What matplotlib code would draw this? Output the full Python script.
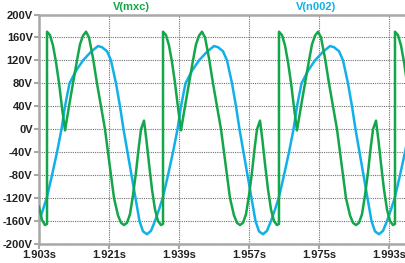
import matplotlib
matplotlib.use("Agg")
import matplotlib.pyplot as plt
import numpy as np

# ---- data (time in ms, voltage in V) ----
mxc_t_ms = [
    1903.00, 1903.77, 1904.54, 1905.06,
    # period 1
    1905.06, 1905.83, 1906.60, 1907.37, 1908.14, 1908.91, 1909.69, 1910.71, 1911.74, 1912.77,
    1913.54, 1914.31, 1915.09, 1915.86, 1916.89, 1917.91, 1918.94, 1919.97, 1920.74, 1921.51,
    1922.29, 1923.31, 1924.09, 1924.86, 1925.63, 1926.40, 1927.17, 1927.94, 1928.59, 1929.23,
    1930.00, 1930.64, 1931.29, 1932.06, 1932.83, 1933.60, 1934.37, 1934.89,
    # period 2
    1934.89, 1935.66, 1936.43, 1937.20, 1937.97, 1938.74, 1939.51, 1940.54, 1941.57, 1942.60,
    1943.37, 1944.14, 1944.91, 1945.69, 1946.71, 1947.74, 1948.77, 1949.80, 1950.57, 1951.34,
    1952.11, 1953.14, 1953.91, 1954.69, 1955.46, 1956.23, 1957.00, 1957.77, 1958.41, 1959.06,
    1959.83, 1960.47, 1961.11, 1961.89, 1962.66, 1963.43, 1964.20, 1964.71,
    # period 3
    1964.71, 1965.49, 1966.26, 1967.03, 1967.80, 1968.57, 1969.34, 1970.37, 1971.40, 1972.43,
    1973.20, 1973.97, 1974.74, 1975.51, 1976.54, 1977.57, 1978.60, 1979.63, 1980.40, 1981.17,
    1981.94, 1982.97, 1983.74, 1984.51, 1985.29, 1986.06, 1986.83, 1987.60, 1988.24, 1988.89,
    1989.66, 1990.30, 1990.94, 1991.71, 1992.49, 1993.26, 1994.03, 1994.54,
    # period 4 (partial)
    1994.54, 1995.31, 1996.09, 1996.86, 1997.63,
]
mxc_v = [
    -135, -158, -167, -165,
    170, 164, 146, 117, 81, 38, -2, 40, 80, 120,
    148, 163, 170, 160, 124, 80, 40, 0, -40, -80,
    -120, -150, -163, -167, -163, -148, -115, -75, -35, 0,
    15, -20, -60, -105, -140, -160, -167, -165,
    170, 164, 146, 117, 81, 38, -2, 40, 80, 120,
    148, 163, 170, 160, 124, 80, 40, 0, -40, -80,
    -120, -150, -163, -167, -163, -148, -115, -75, -35, 0,
    15, -20, -60, -105, -140, -160, -167, -165,
    170, 164, 146, 117, 81, 38, -2, 40, 80, 120,
    148, 163, 170, 160, 124, 80, 40, 0, -40, -80,
    -120, -150, -163, -167, -163, -148, -115, -75, -35, 0,
    15, -20, -60, -105, -140, -160, -167, -165,
    170, 164, 146, 117, 81,
]

n002_t_ms = [
    1903.000, 1904.029, 1905.057, 1906.343, 1907.629, 1908.786, 1909.686, 1910.843, 1912.514,
    1914.314, 1916.372, 1918.172, 1919.200, 1920.486, 1921.514, 1922.800, 1923.829, 1924.729,
    1925.757, 1926.786, 1927.814, 1928.843, 1929.743,
    1930.771, 1931.800, 1932.828, 1933.857, 1934.885, 1936.171, 1937.457, 1938.614, 1939.514,
    1940.671, 1942.342, 1944.142, 1946.200, 1948.000, 1949.028, 1950.314, 1951.342, 1952.628,
    1953.657, 1954.557, 1955.585, 1956.614, 1957.642, 1958.671, 1959.571,
    1960.600, 1961.629, 1962.657, 1963.686, 1964.714, 1966.000, 1967.286, 1968.443, 1969.343,
    1970.500, 1972.171, 1973.971, 1976.029, 1977.829, 1978.857, 1980.143, 1981.171, 1982.457,
    1983.486, 1984.386, 1985.414, 1986.443, 1987.471, 1988.500, 1989.400,
    1990.429, 1991.458, 1992.486, 1993.515, 1994.543, 1995.829, 1997.115, 1998.272,
]
n002_v = [
    -160, -140, -118, -80, -40, 0, 40, 80, 102,
    120, 135, 145, 143, 136, 120, 80, 40, 0,
    -40, -80, -120, -160, -178,
    -183, -177, -160, -140, -118, -80, -40, 0, 40,
    80, 102, 120, 135, 145, 143, 136, 120, 80,
    40, 0, -40, -80, -120, -160, -178,
    -183, -177, -160, -140, -118, -80, -40, 0, 40,
    80, 102, 120, 135, 145, 143, 136, 120, 80,
    40, 0, -40, -80, -120, -160, -178,
    -183, -177, -160, -140, -118, -80, -40, 0,
]

x_ticks = [1.903, 1.921, 1.939, 1.957, 1.975, 1.993]
y_ticks = [-200, -160, -120, -80, -40, 0, 40, 80, 120, 160, 200]

GREEN = "#14a64a"
BLUE = "#12b0e8"
FONT = "Liberation Sans"

fig = plt.figure(figsize=(4.06, 2.63), dpi=100)
fig.patch.set_facecolor("white")
ax = fig.add_axes([39 / 406, 19 / 263, 367 / 406, 229.5 / 263])

ax.plot(np.array(mxc_t_ms) / 1000.0, mxc_v, color=GREEN, lw=1.8, solid_joinstyle="round", zorder=3)
ax.plot(np.array(n002_t_ms) / 1000.0, n002_v, color=BLUE, lw=1.8, solid_joinstyle="round", zorder=2)

ax.set_xlim(1.903, 1.903 + 367 * 0.018 / 70)
ax.set_ylim(-200, 200)
ax.set_xticks(x_ticks)
ax.set_yticks(y_ticks)
ax.set_xticklabels([f"{t:.3f}s" for t in x_ticks], fontsize=8, fontweight="bold",
                   family=FONT, color="#222222")
ax.set_yticklabels([f"{v}V" for v in y_ticks], fontsize=8, fontweight="bold",
                   family=FONT, color="#222222")

ax.grid(True, color="#707070", linestyle=(0, (1, 1)), linewidth=0.8)
ax.set_axisbelow(True)
for side in ["left", "top", "bottom"]:
    ax.spines[side].set_color("#a8a8a8")
    ax.spines[side].set_linewidth(1.8)
ax.spines["right"].set_visible(False)
ax.tick_params(axis="both", colors="#a8a8a8", length=3.5, width=1.5, pad=1,
               labelcolor="#222222")

fig.text(131 / 406, 1 - 7 / 263, "V(mxc)", color=GREEN, fontsize=8, fontweight="bold",
         family=FONT, ha="center", va="center")
fig.text(316 / 406, 1 - 7 / 263, "V(n002)", color=BLUE, fontsize=8, fontweight="bold",
         family=FONT, ha="center", va="center")

fig.savefig("out.png", dpi=100)
